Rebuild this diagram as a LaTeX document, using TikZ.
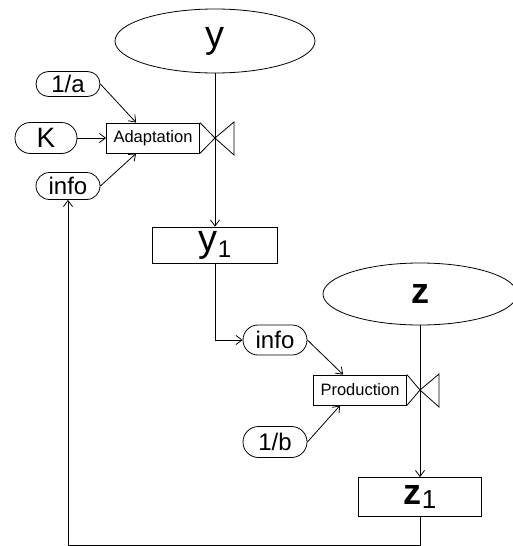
\documentclass[tikz,border=0pt]{standalone}
\usepackage{fontspec}
\setmainfont{Liberation Sans}
\usetikzlibrary{shapes.geometric}
\usetikzlibrary{shapes.misc}
\usetikzlibrary{arrows.meta}

\newcommand{\fs}[1]{\fontsize{#1}{#1}\selectfont}

\tikzset{
	stock/.style={draw,ellipse,inner sep=0pt},
	level/.style={draw,rectangle,inner sep=0pt},
	flowbox/.style={draw,rectangle,inner sep=0pt,minimum width=93pt,minimum height=30pt,font=\fs{16.5}},
	aux/.style={draw,rounded rectangle,inner sep=0pt,minimum width=64pt,font=\fs{24}},
}

\begin{document}
\begin{tikzpicture}[x=1pt,y=-1pt,line width=0.8pt,>={Straight Barb[length=6pt,width=9pt]}]
	\useasboundingbox (0,0) rectangle (513,546);
	% stocks and levels
	\node[stock,minimum width=200pt,minimum height=64pt,font=\fs{38}] (ys) at (215,41) {y};
	\node[level,minimum width=125pt,minimum height=36pt,font=\fs{38}] (y1) at (215,245) {y\raisebox{-6pt}{\fs{24}1}};
	\node[stock,minimum width=194pt,minimum height=62pt,font=\fs{36}\bfseries] (zs) at (420,294) {z};
	\node[level,minimum width=123pt,minimum height=39pt,font=\fs{36}] (z1) at (420,497) {\textbf{z}\raisebox{-4pt}{\fs{26}1}};
	% flows
	\node[flowbox] (adapt) at (153,138) {Adaptation};
	\node[flowbox] (prod) at (360,390) {Production};
	\coordinate (v1) at (215,138);
	\coordinate (v2) at (420,390);
	% auxiliaries
	\node[aux,minimum height=25pt] (inva) at (68,84) {1/a};
	\node[aux,minimum height=31pt,minimum width=62pt,font=\fs{28}] (K) at (46,138) {K};
	\node[aux,minimum height=27pt] (info1) at (68,186) {info};
	\node[aux,minimum height=30pt] (info2) at (275,340) {info};
	\node[aux,minimum height=31pt] (invb) at (275,442) {1/b};
	% valves
	\draw (adapt.north east) -- (v1) -- (adapt.south east);
	\draw (v1) -- ++(19,-16) -- ++(0,33) -- cycle;
	\draw (prod.north east) -- (v2) -- (prod.south east);
	\draw (v2) -- ++(19,-16) -- ++(0,33) -- cycle;
	% pipes
	\draw[->] (ys) -- (y1);
	\draw[->] (zs) -- (z1);
	\draw[->] (y1.south) |- (info2.west);
	\draw[->] (z1.south) -- ++(0,28) -| (info1.south);
	% links
	\draw[->] (inva.east) -- ([xshift=30pt]adapt.north west);
	\draw[->] (K.east) -- (adapt.west);
	\draw[->] (info1.east) -- ([xshift=30pt]adapt.south west);
	\draw[->] (info2.east) -- ([xshift=30pt]prod.north west);
	\draw[->] (invb.east) -- ([xshift=27pt]prod.south west);
\end{tikzpicture}
\end{document}
